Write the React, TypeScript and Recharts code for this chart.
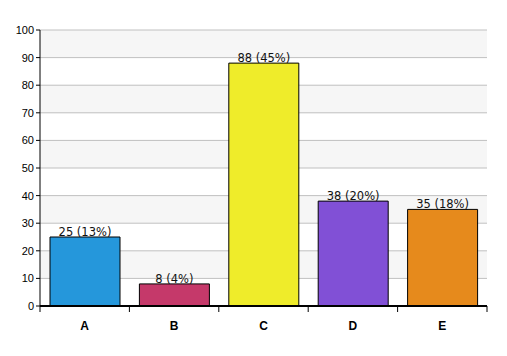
import { BarChart, Bar, XAxis, YAxis, CartesianGrid, Cell, LabelList } from 'recharts'

const categories = ['A', 'B', 'C', 'D', 'E']
const counts = [25, 8, 88, 38, 35]
const barColors = ['#2597db', '#c5396a', '#efec2a', '#8150d6', '#e68a1c']
const yTicks = [0, 10, 20, 30, 40, 50, 60, 70, 80, 90, 100]

const total = counts.reduce((s, v) => s + v, 0)
const data = categories.map((name, i) => ({
  name,
  value: counts[i],
  label: `${counts[i]} (${Math.round((counts[i] / total) * 100)}%)`,
}))

const W = 507
const H = 356
const LEFT = 40
const RIGHT = 20
const band = (W - LEFT - RIGHT) / categories.length

// category label plus boundary tick marks (ticks sit between categories, not under them)
const XTick = (props: any) => {
  const { x, y, payload, index } = props
  return (
    <g>
      <line x1={x - band / 2} x2={x - band / 2} y1={y - 8} y2={y - 2} stroke='#000' />
      {index === categories.length - 1 && (
        <line x1={x + band / 2} x2={x + band / 2} y1={y - 8} y2={y - 2} stroke='#000' />
      )}
      <text x={x} y={y + 16} textAnchor='middle' fontSize={12} fontWeight='bold'
        fontFamily='Liberation Sans, Arial, sans-serif' fill='#000'>
        {payload.value}
      </text>
    </g>
  )
}

const TopLabel = (props: any) => {
  const { x, y, width, value } = props
  return (
    <text x={x + width / 2} y={y - 1} textAnchor='middle' fontSize={11.5}
      fontFamily='DejaVu Sans, Verdana, sans-serif' fill='#111'>
      {value}
    </text>
  )
}

export default function App() {
  return (
    <div style={{ position: 'absolute', left: 0, top: 0, background: '#fff' }}>
      <BarChart width={W} height={H} data={data}
        margin={{ top: 30, right: RIGHT, left: 0, bottom: 0 }}>
        <CartesianGrid vertical={false} stroke='#c0c0c0'
          horizontalFill={['#f6f6f6', '#ffffff']} />
        <XAxis dataKey='name' height={50} tickLine={false} interval={0}
          axisLine={{ stroke: '#000', strokeWidth: 2 }} tick={<XTick />} />
        <YAxis width={LEFT} domain={[0, 100]} ticks={yTicks} interval={0}
          tickSize={4} tickMargin={2}
          axisLine={{ stroke: '#000' }} tickLine={{ stroke: '#000' }}
          tick={{ fontSize: 11, fill: '#000', fontFamily: 'Liberation Sans, Arial, sans-serif' }} />
        <Bar dataKey='value' barSize={70} stroke='#000' strokeWidth={1} isAnimationActive={false}>
          {data.map((_, i) => (
            <Cell key={`cell-${i}`} fill={barColors[i]} />
          ))}
          <LabelList dataKey='label' content={<TopLabel />} />
        </Bar>
      </BarChart>
    </div>
  )
}
